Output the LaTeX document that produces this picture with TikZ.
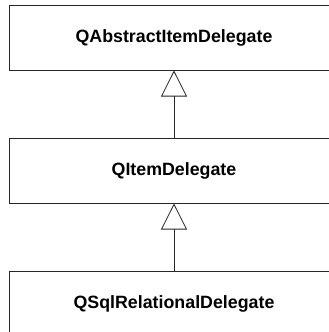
\documentclass[tikz,border=0pt]{standalone}
\usepackage{fontspec}
\setmainfont{Liberation Sans}
\usetikzlibrary{arrows.meta, positioning}
\tikzset{
  cls/.style ={rectangle, draw=black!85, fill=white, line width=1pt,
               minimum width=330pt, minimum height=65pt,
               font=\bfseries\fontsize{17.8}{20}\selectfont},
  inh/.style ={-{Triangle[open, length=26pt, width=26pt, fill=white]},
               draw=black!85, line width=0.8pt},
}
\begin{document}
\begin{tikzpicture}[node distance=67pt]
\useasboundingbox (0pt,0pt) rectangle (329pt,-332pt);
\clip (0pt,0pt) rectangle (329pt,-332pt);
\node[cls] (abs) at (174pt,-37.5pt) {QAbstractItemDelegate};
\node[cls, below=of abs] (item) {QItemDelegate};
\node[cls, below=of item] (sql) {QSqlRelationalDelegate};
\draw[inh] (item) -- (abs);
\draw[inh] (sql) -- (item);
\end{tikzpicture}
\end{document}
